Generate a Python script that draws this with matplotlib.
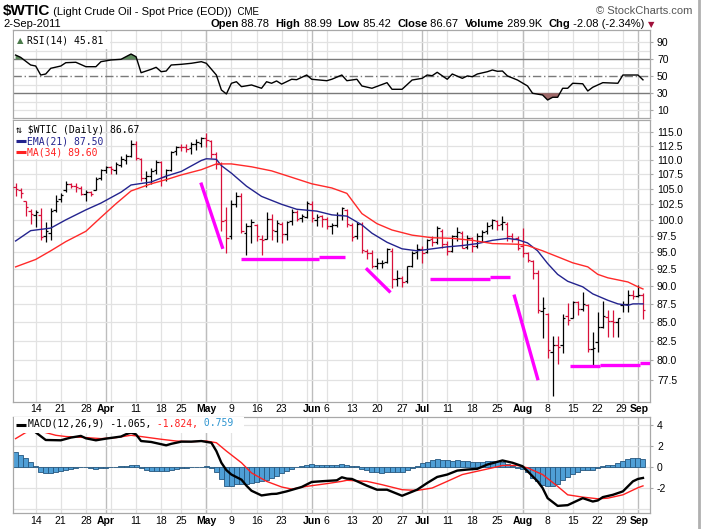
import numpy as np
import pandas as pd
import matplotlib
matplotlib.use("Agg")
import matplotlib.pyplot as plt
import matplotlib.transforms as mtransforms
from matplotlib.patches import Rectangle
from matplotlib.ticker import NullLocator

# ---- data ----
days = pd.bdate_range("2011-03-08", "2011-09-02")
days = days.drop(pd.to_datetime(["2011-04-22", "2011-05-30", "2011-07-04"]))

prev_close = 105.4
opens = [105.3, 104.9, 103.0, 101.4, 100.8, 100.8, 97.5, 98.0, 101.6, 103.3,
         104.8, 105.8, 105.6, 105.2, 104.2, 104.6, 104.9, 106.9, 108.3, 108.7,
         108.3, 109.1, 110.0, 110.7, 112.8, 110.2, 106.9, 107.2, 108.2, 109.6,
         107.3, 108.3, 111.5, 112.3, 112.3, 112.1, 112.8, 113.0, 113.9, 113.4,
         111.0, 109.2, 100.0, 97.4, 102.6, 103.9, 98.0, 99.0, 99.2, 97.0,
         97.0, 100.2, 98.3, 99.3, 97.8, 99.8, 101.3, 100.3, 100.5, 102.5,
         100.0, 100.6, 100.2, 99.0, 99.2, 100.8, 101.5, 99.2, 97.4, 99.3,
         95.2, 94.9, 92.9, 93.3, 93.5, 95.1, 91.1, 91.2, 90.7, 93.0,
         95.0, 95.5, 95.0, 97.0, 96.6, 98.2, 96.2, 95.1, 97.5, 98.0,
         95.8, 97.1, 96.0, 97.5, 98.2, 99.2, 99.8, 99.3, 99.4, 97.5,
         97.1, 96.0, 94.8, 93.6, 91.9, 86.5, 86.1, 81.0, 82.0, 81.9,
         85.8, 85.6, 87.7, 86.8, 87.3, 81.5, 82.3, 84.4, 85.7, 85.2,
         85.0, 87.3, 87.5, 88.7, 88.6, 88.78]
highs = [106.0, 105.2, 103.1, 101.8, 101.6, 101.9, 99.6, 101.9, 104.0, 104.3,
         106.4, 106.1, 106.0, 105.5, 104.9, 104.7, 107.0, 108.5, 109.0, 109.0,
         109.6, 110.6, 111.0, 113.5, 113.3, 110.3, 108.0, 108.6, 110.0, 109.8,
         108.4, 111.6, 112.5, 112.8, 112.9, 113.2, 113.7, 114.1, 114.8, 113.6,
         111.4, 109.6, 102.0, 103.2, 104.6, 104.3, 99.5, 100.2, 99.4, 97.6,
         101.3, 100.9, 100.0, 99.6, 99.8, 101.7, 101.6, 101.0, 103.0, 103.0,
         101.0, 100.8, 100.5, 99.5, 101.2, 102.0, 101.7, 99.5, 99.6, 99.6,
         95.5, 95.3, 94.1, 93.8, 95.7, 95.6, 92.4, 91.4, 93.0, 95.1,
         96.3, 96.0, 97.0, 97.4, 99.0, 98.6, 96.7, 97.6, 98.9, 98.2,
         97.6, 97.3, 97.9, 98.4, 99.6, 100.2, 100.0, 100.6, 99.7, 97.9,
         97.5, 98.7, 95.0, 93.8, 92.3, 88.4, 86.2, 83.2, 83.2, 86.1,
         87.6, 87.9, 87.9, 89.1, 87.5, 83.7, 86.4, 87.9, 86.7, 86.7,
         85.6, 87.9, 89.4, 89.4, 90.1, 88.99]
lows = [103.8, 103.6, 100.6, 99.3, 98.9, 96.8, 96.5, 96.9, 101.3, 102.9,
        104.6, 105.2, 104.6, 104.0, 103.0, 103.9, 104.8, 106.5, 107.8, 107.6,
        107.5, 108.7, 109.2, 110.5, 110.0, 106.4, 105.4, 105.8, 107.5, 105.5,
        106.3, 108.1, 110.8, 111.6, 111.4, 111.0, 111.8, 112.3, 112.2, 110.3,
        108.4, 98.3, 94.8, 97.0, 102.0, 97.9, 94.6, 96.4, 96.7, 94.6,
        97.0, 96.9, 96.6, 96.4, 96.9, 99.2, 99.8, 99.7, 100.3, 99.6,
        99.1, 98.9, 98.6, 97.7, 98.9, 100.0, 98.8, 96.7, 97.0, 94.8,
        94.0, 92.6, 92.5, 92.6, 93.4, 89.7, 90.0, 89.9, 90.4, 92.8,
        94.0, 93.4, 94.8, 95.9, 96.3, 95.6, 94.5, 95.0, 96.7, 95.6,
        95.5, 95.0, 95.7, 96.5, 97.7, 98.5, 98.4, 98.4, 96.7, 96.6,
        95.3, 94.2, 93.5, 91.0, 86.3, 82.9, 80.3, 75.6, 79.5, 80.9,
        84.6, 85.5, 85.9, 86.5, 81.1, 79.4, 81.1, 84.2, 83.0, 83.0,
        83.0, 86.4, 86.4, 88.2, 88.4, 85.42]
closes = [105.0, 104.4, 102.0, 100.9, 101.2, 97.3, 98.2, 101.4, 103.0, 104.0,
          105.8, 105.5, 105.3, 104.2, 104.6, 104.2, 106.7, 108.2, 108.8, 108.4,
          109.2, 110.1, 110.6, 112.8, 110.3, 106.9, 107.3, 108.1, 109.7, 107.1,
          108.2, 111.4, 112.3, 112.2, 112.0, 112.8, 113.1, 113.9, 113.5, 111.1,
          109.2, 99.8, 97.2, 102.6, 103.9, 98.2, 99.0, 99.7, 97.4, 96.9,
          100.1, 98.4, 99.5, 97.7, 99.6, 101.3, 100.2, 100.6, 102.7, 100.3,
          100.4, 100.2, 99.0, 99.2, 100.7, 101.9, 99.3, 97.3, 99.4, 95.3,
          94.9, 93.0, 93.3, 93.4, 95.4, 91.0, 91.2, 90.6, 92.9, 94.9,
          95.4, 94.9, 96.9, 96.6, 98.7, 96.2, 95.2, 97.4, 98.1, 95.7,
          97.2, 95.9, 97.5, 98.1, 99.1, 99.9, 99.2, 99.6, 97.4, 97.0,
          95.7, 94.9, 93.8, 91.9, 86.6, 86.9, 81.3, 82.0, 81.7, 85.5,
          85.3, 87.7, 86.8, 87.5, 81.4, 81.6, 84.4, 85.8, 85.2, 85.0,
          85.5, 87.5, 88.7, 88.6, 88.75, 86.67]

# overlays, sampled at trading-day numbers
ema_day = [0, 3, 7, 10, 14, 17, 21, 23, 27, 30, 33, 37, 38, 40, 41, 43, 46, 49,
           53, 56, 60, 63, 66, 69, 71, 74, 77, 80, 83, 86, 89, 92, 95, 98, 100,
           102, 104, 106, 108, 110, 113, 115, 118, 120, 122, 123, 125]
ema_val = [96.7, 98.3, 98.7, 100.0, 101.6, 102.7, 104.5, 105.7, 106.2, 107.2,
           108.0, 109.9, 110.2, 110.1, 109.0, 107.7, 105.5, 103.8, 102.5, 101.7,
           101.4, 100.8, 100.6, 99.2, 97.9, 96.5, 95.5, 95.2, 95.5, 95.8, 96.0,
           96.3, 96.8, 97.1, 96.9, 96.4, 95.2, 93.3, 91.7, 90.7, 89.9, 88.9,
           88.0, 87.5, 87.3, 87.5, 87.5]
ma_day = [0, 4, 7, 10, 14, 17, 20, 23, 27, 30, 33, 37, 40, 43, 47, 51, 55, 59,
          63, 66, 69, 72, 75, 79, 83, 87, 91, 95, 100, 102, 105, 108, 111, 114,
          116, 118, 122, 124, 125]
ma_val = [92.8, 93.9, 95.2, 96.6, 98.2, 100.4, 102.6, 104.7, 105.9, 106.6,
          107.4, 108.3, 109.3, 109.3, 108.8, 108.1, 107.0, 105.9, 105.2, 104.3,
          101.0, 99.4, 98.4, 97.6, 97.2, 97.1, 96.8, 96.3, 96.2, 96.0, 95.2,
          94.3, 93.4, 92.8, 91.7, 91.2, 90.6, 89.9, 89.6]

rsi_day = [0, 1, 3, 4, 5, 6, 7, 9, 10, 12, 14, 16, 17, 19, 21, 23, 24, 25, 27,
           28, 29, 30, 31, 33, 35, 37, 38, 40, 41, 42, 43, 44, 45, 47, 49, 50,
           51, 52, 53, 55, 56, 58, 59, 62, 63, 65, 66, 68, 69, 71, 74, 75, 77,
           79, 81, 82, 83, 84, 86, 87, 89, 90, 91, 92, 94, 95, 96, 97, 98, 100,
           102, 103, 105, 106, 107, 108, 109, 110, 111, 113, 114, 115, 117, 120,
           121, 124, 125]
rsi_val = [75.0, 72.3, 63.3, 62.1, 51.5, 52.7, 59.4, 62.1, 66.0, 66.5, 61.3,
           61.3, 67.2, 69.2, 70.0, 76.2, 73.0, 54.2, 58.2, 60.6, 55.4, 56.2,
           63.3, 64.1, 65.3, 67.2, 65.3, 51.5, 33.9, 29.2, 41.8, 43.6, 37.8,
           39.8, 35.9, 43.6, 41.8, 44.5, 40.8, 46.5, 46.0, 51.5, 46.5, 44.8,
           46.5, 51.5, 44.8, 46.5, 38.6, 35.9, 42.5, 34.7, 34.7, 45.6, 47.6,
           51.5, 50.7, 54.7, 46.5, 52.7, 47.6, 50.4, 49.5, 52.7, 55.4, 57.4,
           55.9, 56.2, 50.4, 45.6, 38.6, 30.0, 28.0, 22.1, 25.3, 25.3, 35.9,
           35.9, 41.8, 41.2, 32.7, 37.1, 42.5, 41.8, 51.5, 51.5, 45.81]

macd_day = [0, 2, 3, 6, 9, 11, 13, 14, 16, 18, 21, 22, 23, 24, 25, 27, 30, 31,
            33, 35, 37, 39, 40, 41, 42, 43, 45, 46, 47, 49, 51, 52, 54, 57, 59,
            61, 63, 64, 65, 66, 67, 70, 72, 74, 77, 78, 80, 82, 84, 86, 88, 90,
            92, 94, 96, 97, 99, 101, 102, 104, 105, 106, 108, 110, 112, 113, 115,
            116, 117, 119, 121, 122, 123, 124, 125]
macd_val = [4.1, 3.9, 3.67, 2.57, 2.54, 2.8, 2.96, 2.73, 2.54, 2.7, 2.9, 3.12,
            3.28, 3.1, 2.47, 2.38, 2.06, 2.2, 2.41, 2.41, 2.47, 2.31, 1.51, 0.39,
            -0.32, -0.74, -1.23, -1.81, -2.29, -2.74, -2.6, -2.58, -2.35, -1.93,
            -1.45, -1.38, -1.32, -1.29, -1.0, -1.13, -1.16, -1.81, -2.19, -2.19,
            -2.77, -2.58, -2.19, -1.55, -0.97, -0.74, -0.36, -0.26, -0.19, 0.22,
            0.48, 0.61, 0.39, 0.06, -0.42, -1.39, -2.03, -3.0, -3.74, -3.67,
            -3.22, -3.0, -3.32, -3.22, -2.9, -2.68, -2.35, -1.87, -1.39, -1.16,
            -1.065]
sig_day = [0, 2, 4, 6, 8, 10, 14, 17, 20, 23, 25, 29, 32, 35, 38, 40, 42, 45,
           47, 50, 53, 55, 58, 62, 65, 66, 70, 73, 77, 80, 83, 86, 89, 92, 95,
           97, 100, 102, 105, 108, 110, 113, 116, 118, 121, 124, 125]
sig_val = [2.7, 3.28, 3.54, 3.28, 3.02, 2.9, 2.8, 2.7, 2.8, 3.02, 2.9, 2.64,
           2.47, 2.41, 2.47, 2.31, 1.51, 0.39, -0.58, -1.39, -1.93, -2.13, -1.87,
           -1.61, -1.39, -1.29, -1.39, -1.71, -2.19, -2.26, -2.03, -1.39, -0.74,
           -0.42, -0.1, 0.13, 0.13, -0.1, -0.74, -1.87, -2.68, -2.9, -3.06, -3.0,
           -2.68, -2.0, -1.824]
hist = [1.40, 1.10, 0.80, 0.45, 0.05, -0.45, -0.60, -0.55, -0.50, -0.42,
        -0.30, -0.20, -0.10, -0.02, -0.05, -0.10, -0.18, -0.15, -0.10, -0.05,
        0.02, 0.05, 0.12, 0.22, 0.18, -0.10, -0.30, -0.38, -0.38, -0.40,
        -0.40, -0.35, -0.25, -0.15, -0.08, -0.02, 0.00, 0.03, 0.05, -0.10,
        -0.50, -1.20, -1.85, -1.80, -1.65, -1.60, -1.60, -1.55, -1.50, -1.40,
        -1.25, -1.05, -0.85, -0.60, -0.40, -0.20, -0.05, 0.10, 0.20, 0.25,
        0.22, 0.20, 0.15, 0.18, 0.22, 0.25, 0.15, 0.10, 0.05, -0.20,
        -0.30, -0.45, -0.50, -0.55, -0.50, -0.45, -0.50, -0.50, -0.35, -0.10,
        0.10, 0.35, 0.50, 0.70, 0.75, 0.70, 0.65, 0.60, 0.65, 0.55,
        0.55, 0.50, 0.45, 0.50, 0.55, 0.55, 0.55, 0.45, 0.25, 0.10,
        -0.10, -0.25, -0.45, -1.10, -1.40, -1.70, -1.80, -1.80, -1.60, -1.30,
        -1.00, -0.70, -0.45, -0.30, -0.35, -0.30, -0.12, 0.05, 0.15, 0.20,
        0.35, 0.55, 0.75, 0.80, 0.80, 0.759]

# hand-drawn magenta trend lines: (day, price) pairs
trend_lines = [
    [(36.9, 106.1), (41.3, 95.5)],
    [(44.9, 94.0), (60.5, 94.0)],
    [(60.5, 94.2), (65.6, 94.2)],
    [(69.8, 92.6), (74.7, 89.1)],
    [(82.5, 91.1), (94.5, 91.1)],
    [(94.5, 91.3), (98.6, 91.3)],
    [(99.3, 88.8), (104.1, 77.5)],
    [(110.4, 79.3), (116.5, 79.3)],
    [(116.5, 79.45), (124.4, 79.45)],
    [(124.4, 79.6), (126.4, 79.6)],
]

tick_dates = ["2011-03-14", "2011-03-21", "2011-03-28", "2011-04-01", "2011-04-11",
              "2011-04-18", "2011-04-25", "2011-05-02", "2011-05-09", "2011-05-16",
              "2011-05-23", "2011-06-01", "2011-06-06", "2011-06-13", "2011-06-20",
              "2011-06-27", "2011-07-01", "2011-07-11", "2011-07-18", "2011-07-25",
              "2011-08-01", "2011-08-08", "2011-08-15", "2011-08-22", "2011-08-29",
              "2011-09-01"]
tick_labels = ["14", "21", "28", "Apr", "11", "18", "25", "May", "9", "16", "23",
               "Jun", "6", "13", "20", "27", "Jul", "11", "18", "25", "Aug", "8",
               "15", "22", "29", "Sep"]
price_ticks = [77.5, 80.0, 82.5, 85.0, 87.5, 90.0, 92.5, 95.0, 97.5, 100.0,
               102.5, 105.0, 107.5, 110.0, 112.5, 115.0]

# ---- figure ----
W, H = 703, 529
fig = plt.figure(figsize=(W / 100, H / 100), dpi=100)
fig.patch.set_facecolor("white")
LEFT, RIGHT = 13, 650
LIB = "Liberation Sans"


def box(top, bottom):
    return [LEFT / W, 1 - bottom / H, (RIGHT - LEFT) / W, (bottom - top) / H]


def px(xp, yp):
    return xp / W, 1 - yp / H


ax_r = fig.add_axes(box(30, 118))
ax = fig.add_axes(box(120, 401.7))
ax_m = fig.add_axes(box(416.7, 513.3))

n = len(days)
x = np.arange(n)
tick_pos = [days.get_loc(pd.Timestamp(d)) for d in tick_dates]
week_start = [i for i in range(1, n) if days[i].week != days[i - 1].week]
month_start = [i for i in range(1, n) if days[i].month != days[i - 1].month]

GRID = "#e2e2e2"
MGRID = "#bdbdbd"
SPINE = "#a8a8a8"
RED = "#d8103a"

for a in (ax_r, ax, ax_m):
    a.set_xlim(-0.52, 126.4)
    for w in week_start:
        a.axvline(w, color=GRID, lw=0.9, zorder=0)
    for m in month_start:
        a.axvline(m, color=MGRID, lw=1.0, zorder=0)
    for s in a.spines.values():
        s.set_color(SPINE)
        s.set_linewidth(0.9)
    a.yaxis.tick_right()
    a.tick_params(axis="y", length=2, color=SPINE, pad=3, labelsize=7.5)
    a.tick_params(axis="x", length=0, pad=2, labelsize=7.5)
    a.set_xticks([])

for a in (ax, ax_m):
    a.set_xticks(tick_pos)
    a.set_xticklabels(tick_labels)
    for lab in a.get_xticklabels():
        lab.set_family(LIB)
        if lab.get_text().isalpha():
            lab.set_fontweight("bold")
        if lab.get_text() == "29":
            lab.set_transform(lab.get_transform() + mtransforms.ScaledTranslation(
                -1.5 / 100, 0, fig.dpi_scale_trans))
        if lab.get_text() == "Sep":
            lab.set_transform(lab.get_transform() + mtransforms.ScaledTranslation(
                1.5 / 100, 0, fig.dpi_scale_trans))

# ---- RSI panel ----
ax_r.set_ylim(0.9, 104.5)
ax_r.set_yticks([10, 30, 50, 70, 90])
for lab in ax_r.get_yticklabels():
    lab.set_family(LIB)
for lv in [10, 20, 40, 60, 80, 90]:
    ax_r.axhline(lv, color=GRID, lw=0.9, zorder=0)
ax_r.axhline(70, color="#7a7a7a", lw=1.0, zorder=1)
ax_r.axhline(30, color="#7a7a7a", lw=1.0, zorder=1)
ax_r.axhline(50, color="#7a7a7a", lw=1.0, ls=(0, (6, 2, 1, 2)), zorder=1)
rsi = np.array(rsi_val)
ax_r.fill_between(rsi_day, rsi, 70, where=rsi >= 70, interpolate=True,
                  color="#5d8a5d", lw=0, zorder=2)
ax_r.fill_between(rsi_day, rsi, 30, where=rsi <= 30, interpolate=True,
                  color="#a06a6a", lw=0, zorder=2)
ax_r.plot(rsi_day, rsi, color="black", lw=1.0, zorder=3)
ax_r.add_patch(Rectangle((0.002, 0.78), 0.15, 0.2, transform=ax_r.transAxes,
                         facecolor="white", edgecolor="none", zorder=4))
ax_r.text(0.006, 0.885, "\u25b2", transform=ax_r.transAxes, color="#4a7a4a",
          fontsize=6, va="center", zorder=5)
ax_r.text(0.022, 0.885, "RSI(14) 45.81", transform=ax_r.transAxes,
          family="DejaVu Sans Mono", fontsize=7, va="center", zorder=5)

# ---- price panel ----
ax.set_yscale("log")
ax.set_ylim(74.9, 117.2)
ax.yaxis.set_minor_locator(NullLocator())
ax.set_yticks(price_ticks)
ax.set_yticklabels([f"{v:.1f}" for v in price_ticks], family=LIB)
for v in price_ticks:
    ax.axhline(v, color=GRID, lw=0.9, zorder=0)

o = np.array(opens)
hi = np.array(highs)
lo = np.array(lows)
c = np.array(closes)
prev = np.concatenate([[prev_close], c[:-1]])
cols = np.where(c >= prev, "black", RED)
ax.vlines(x, lo, hi, colors=cols, lw=0.9, zorder=3)
ax.hlines(o, x - 0.5, x, colors=cols, lw=0.9, zorder=3)
ax.hlines(c, x, x + 0.5, colors=cols, lw=0.9, zorder=3)

ax.plot(ema_day, ema_val, color="#23238e", lw=1.0, zorder=4)
ax.plot(ma_day, ma_val, color="#ff2a2a", lw=1.0, zorder=4)

for seg in trend_lines:
    (x0, y0), (x1, y1) = seg
    ax.plot([x0, x1], [y0, y1], color="#ff00ff", lw=2.4,
            solid_capstyle="butt", zorder=5)

ax.add_patch(Rectangle((0.002, 0.86), 0.128, 0.138, transform=ax.transAxes,
                       facecolor="white", edgecolor="none", zorder=6))
leg = [("\u21c5 $WTIC (Daily) 86.67", "black", 0.965),
       ("EMA(21) 87.50", "#23238e", 0.925),
       ("MA(34) 89.60", "#ff2020", 0.886)]
ax.text(0.004, leg[0][2], leg[0][0], transform=ax.transAxes, color="black",
        family="DejaVu Sans Mono", fontsize=7, va="center", zorder=7)
for s, col, yy in leg[1:]:
    ax.plot([0.005, 0.02], [yy, yy], transform=ax.transAxes, color=col,
            lw=2.2, zorder=7, solid_capstyle="butt")
    ax.text(0.0215, yy, s, transform=ax.transAxes, color=col,
            family="DejaVu Sans Mono", fontsize=7, va="center", zorder=7)

# ---- MACD panel ----
ax_m.set_ylim(-4.45, 4.8)
ax_m.set_yticks([-2, 0, 2, 4])
ax_m.set_yticklabels(["-2", "0", "2", "4"], family=LIB)
for v in [-4, -2, 0, 2, 4]:
    ax_m.axhline(v, color=GRID, lw=0.9, zorder=0)
ax_m.bar(x, hist, width=1.0, color="#4f9fd6", edgecolor="#25577f", lw=0.6,
         zorder=2)
ax_m.plot(sig_day, sig_val, color="#ff2020", lw=1.0, zorder=3)
ax_m.plot(macd_day, macd_val, color="black", lw=1.7, zorder=4)
ax_m.add_patch(Rectangle((0.002, 0.835), 0.36, 0.16, transform=ax_m.transAxes,
                         facecolor="white", edgecolor="none", zorder=5))

W_CH = 0.602 * 7 * 100 / 72  # mono char width in px at 7pt

ax_m.plot([0.005, 0.02], [0.915, 0.915], transform=ax_m.transAxes,
          color="black", lw=2.2, zorder=6, solid_capstyle="butt")
parts = [("MACD(12,26,9) -1.065,", "black"), (" -1.824,", "#ff2020"),
         (" 0.759", "#2f95d0")]
xc = 28.5
for s, col in parts:
    fig.text(*px(xc, 423.5), s, color=col, family="DejaVu Sans Mono",
             fontsize=7, va="center", zorder=7)
    xc += len(s) * W_CH

# ---- header ----
renderer = fig.canvas.get_renderer()


def chain(pieces, xs, ys):
    for s, kw in pieces:
        t = fig.text(*px(xs, ys), s, va="baseline", ha="left", **kw)
        xs += t.get_window_extent(renderer).width
    return xs


chain([("$WTIC", dict(family=LIB, weight="bold", fontsize=11)),
       (" (Light Crude Oil - Spot Price (EOD))", dict(family=LIB, fontsize=8)),
       ("  CME", dict(family=LIB, fontsize=7))], 3, 15)
fig.text(*px(692, 14), "\u00a9 StockCharts.com", ha="right", va="baseline",
         family=LIB, fontsize=8, color="#555555")
fig.text(*px(3, 27), "2-Sep-2011", va="baseline", family=LIB, fontsize=8)
b = dict(family=LIB, weight="bold", fontsize=8)
r = dict(family=LIB, fontsize=8)
xe = chain([("Open", b), (" 88.78  ", r), ("High", b), (" 88.99  ", r),
            ("Low", b), (" 85.42  ", r), ("Close", b), (" 86.67  ", r),
            ("Volume", b), (" 289.9K  ", r), ("Chg", b),
            (" -2.08 (-2.34%) ", r)], 210, 27)
fig.text(*px(xe, 27), "\u25bc", va="baseline", color="#a0103a", fontsize=6)

# window edge on the right
fig.add_artist(plt.Line2D([698.5 / W, 698.5 / W], [0, 1], color="#b0b0b0",
                          lw=2.0))

fig.savefig("out.png", dpi=100)
